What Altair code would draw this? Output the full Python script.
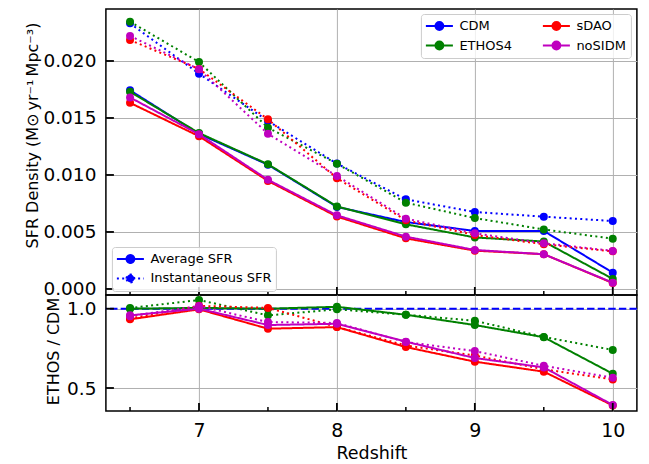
import altair as alt
import pandas as pd

# ---------------- data ----------------
redshift = [6.5, 7.0, 7.5, 8.0, 8.5, 9.0, 9.5, 10.0]
models = ["CDM", "ETHOS4", "sDAO", "noSIDM"]
ratio_models = ["ETHOS4", "sDAO", "noSIDM"]

avg_cdm = [0.01743, 0.01360, 0.01090, 0.00720, 0.00587, 0.00509, 0.00509, 0.00143]
avg_ethos4 = [0.01730, 0.01368, 0.01094, 0.00724, 0.00567, 0.00452, 0.00416, 0.00088]
avg_sdao = [0.01633, 0.01340, 0.00948, 0.00635, 0.00444, 0.00336, 0.00305, 0.00052]
avg_nosidm = [0.01680, 0.01357, 0.00958, 0.00646, 0.00459, 0.00342, 0.00305, 0.00055]

inst_cdm = [0.02330, 0.01889, 0.01474, 0.01100, 0.00786, 0.00675, 0.00634, 0.00596]
inst_ethos4 = [0.02345, 0.01991, 0.01415, 0.01099, 0.00757, 0.00622, 0.00522, 0.00441]
inst_sdao = [0.02184, 0.01930, 0.01489, 0.00972, 0.00602, 0.00474, 0.00392, 0.00330]
inst_nosidm = [0.02220, 0.01927, 0.01362, 0.00991, 0.00617, 0.00489, 0.00401, 0.00334]

ratio_avg_ethos4 = [1.000, 1.005, 1.000, 1.012, 0.962, 0.897, 0.820, 0.590]
ratio_avg_sdao = [0.933, 0.996, 0.874, 0.884, 0.758, 0.666, 0.603, 0.390]
ratio_avg_nosidm = [0.958, 1.000, 0.897, 0.905, 0.792, 0.689, 0.630, 0.393]

ratio_inst_ethos4 = [1.004, 1.055, 0.958, 0.996, 0.962, 0.924, 0.822, 0.740]
ratio_inst_sdao = [0.938, 1.018, 1.005, 0.885, 0.768, 0.705, 0.618, 0.554]
ratio_inst_nosidm = [0.953, 1.017, 0.916, 0.910, 0.790, 0.733, 0.640, 0.565]

kinds = ["Average SFR", "Instantaneous SFR"]
x_major = [7, 8, 9, 10]
x_minor = [6.5, 7.5, 8.5, 9.5]
top_yticks = [0.0, 0.005, 0.010, 0.015, 0.020]
bottom_yticks = [0.5, 1.0]
reference_ratio = [1.0]

legend_order = ["CDM", "ETHOS4", "sDAO", "noSIDM"]
palette = {"CDM": "#0000ff", "ETHOS4": "#008000", "sDAO": "#ff0000", "noSIDM": "#bf00bf"}

avg = {"CDM": avg_cdm, "ETHOS4": avg_ethos4, "sDAO": avg_sdao, "noSIDM": avg_nosidm}
inst = {"CDM": inst_cdm, "ETHOS4": inst_ethos4, "sDAO": inst_sdao, "noSIDM": inst_nosidm}
r_avg = {"ETHOS4": ratio_avg_ethos4, "sDAO": ratio_avg_sdao, "noSIDM": ratio_avg_nosidm}
r_inst = {"ETHOS4": ratio_inst_ethos4, "sDAO": ratio_inst_sdao, "noSIDM": ratio_inst_nosidm}


def long_table(avg_d, inst_d, names):
    rows = []
    for m in names:
        for z, v in zip(redshift, avg_d[m]):
            rows.append({"model": m, "kind": kinds[0], "z": z, "v": v})
        for z, v in zip(redshift, inst_d[m]):
            rows.append({"model": m, "kind": kinds[1], "z": z, "v": v})
    return pd.DataFrame(rows)


top_df = long_table(avg, inst, models)
bot_df = long_table(r_avg, r_inst, ratio_models)

# ---------------- style ----------------
W, H_TOP, H_BOT = 531, 286, 116
FONT = "DejaVu Sans"
X_FS = 19
Y_FS = 18.5

x_scale = alt.Scale(domain=[6.325, 10.175], nice=False, zero=False)
top_y_scale = alt.Scale(domain=[-0.00053, 0.02456], nice=False, zero=False)
bot_y_scale = alt.Scale(domain=[0.355, 1.0864], nice=False, zero=False)
color_scale = alt.Scale(domain=legend_order, range=[palette[m] for m in legend_order])
dash_scale = alt.Scale(domain=kinds, range=[[1, 0], [2, 3.3]])

SYMBOL = "M-1.93,0H1.93M-0.56,0A0.56,0.56,0,1,1,0.56,0A0.56,0.56,0,1,1,-0.56,0Z"

color_legend = alt.Legend(
    title=None, orient="none", legendX=315, legendY=5, columns=2,
    symbolType=SYMBOL, symbolSize=196, symbolOffset=6.5, symbolStrokeWidth=2,
    labelOffset=12, labelFontSize=13, labelFont=FONT, labelColor="black",
    fillColor="rgba(255,255,255,0.8)", strokeColor="#cccccc", cornerRadius=3,
    padding=4, rowPadding=3.5, columnPadding=25,
)
dash_legend = alt.Legend(
    title=None, orient="none", legendX=6, legendY=238,
    symbolType=SYMBOL, symbolSize=196, symbolOffset=6.5, symbolStrokeWidth=2,
    symbolStrokeColor="#0000ff", symbolFillColor="#0000ff",
    labelOffset=12, labelFontSize=13, labelFont=FONT, labelColor="black",
    fillColor="rgba(255,255,255,0.8)", strokeColor="#cccccc", cornerRadius=3,
    padding=4, rowPadding=3.5,
)

axis_common = dict(grid=True, gridColor="#b0b0b0", gridWidth=1, ticks=False, tickSize=0,
                   domain=False, labelFont=FONT, labelColor="black",
                   titleFont=FONT, titleFontWeight="normal", titleColor="black")

top_x_axis = alt.Axis(values=x_major, labels=False, title=None, **axis_common)
bot_x_axis = alt.Axis(values=x_major, format="d", labelFontSize=X_FS, labelPadding=11,
                      title="Redshift", titleFontSize=17.5, titlePadding=4, **axis_common)
top_y_axis = alt.Axis(values=top_yticks, format=".3f", labelFontSize=Y_FS, labelPadding=10,
                      title="SFR Density (M\u2299\u2009yr\u207b\u00b9\u2009Mpc\u207b\u00b3)",
                      titleFontSize=16, titleY=126, titlePadding=2, **axis_common)
bot_y_axis = alt.Axis(values=bottom_yticks, format=".1f", labelFontSize=Y_FS, labelPadding=10,
                      title="ETHOS / CDM", titleFontSize=16, titleY=56, titlePadding=5,
                      **axis_common)


def series(df, names, y_scale, x_axis, y_axis, legends):
    layers = []
    for m in names:
        sub = df[df["model"] == m]
        base = alt.Chart(sub)
        cl = color_legend if legends else None
        dl = dash_legend if legends else None
        line = base.mark_line(strokeWidth=2).encode(
            x=alt.X("z:Q", scale=x_scale, axis=x_axis),
            y=alt.Y("v:Q", scale=y_scale, axis=y_axis),
            color=alt.Color("model:N", scale=color_scale, legend=cl),
            strokeDash=alt.StrokeDash("kind:N", scale=dash_scale, legend=dl),
        )
        pts = base.mark_circle(size=64, opacity=1).encode(
            x=alt.X("z:Q", scale=x_scale, axis=x_axis),
            y=alt.Y("v:Q", scale=y_scale, axis=y_axis),
            color=alt.Color("model:N", scale=color_scale, legend=cl),
        )
        layers += [line, pts]
    return layers


def tick_layers(h, y_scale, x_axis, y_axis, yticks):
    major = alt.Chart(pd.DataFrame({"t": x_major})).mark_rule(color="black", strokeWidth=1.8).encode(
        x=alt.X("t:Q", scale=x_scale, axis=x_axis), y=alt.value(h), y2=alt.value(h - 8))
    minor = alt.Chart(pd.DataFrame({"t": x_minor})).mark_rule(color="black", strokeWidth=1.5).encode(
        x=alt.X("t:Q", scale=x_scale, axis=x_axis), y=alt.value(h), y2=alt.value(h - 4))
    ymaj = alt.Chart(pd.DataFrame({"t": yticks})).mark_rule(color="black", strokeWidth=1.8).encode(
        y=alt.Y("t:Q", scale=y_scale, axis=y_axis), x=alt.value(0), x2=alt.value(8))
    return [major, minor, ymaj]


top_layers = series(top_df, models, top_y_scale, top_x_axis, top_y_axis, True)
top_layers += tick_layers(H_TOP, top_y_scale, top_x_axis, top_y_axis, top_yticks)
top = alt.layer(*top_layers).properties(width=W, height=H_TOP)

ref = alt.Chart(pd.DataFrame({"r": reference_ratio})).mark_rule(
    color="#0000ff", strokeWidth=2, strokeDash=[7.4, 3.2]).encode(
    y=alt.Y("r:Q", scale=bot_y_scale, axis=bot_y_axis))
bot_layers = [ref] + series(bot_df, ratio_models, bot_y_scale, bot_x_axis, bot_y_axis, False)
bot_layers += tick_layers(H_BOT, bot_y_scale, bot_x_axis, bot_y_axis, bottom_yticks)
bottom = alt.layer(*bot_layers).properties(width=W, height=H_BOT)

chart = alt.vconcat(top, bottom, spacing=0, bounds="flush").resolve_scale(
    color="independent", strokeDash="independent"
).resolve_legend(
    color="independent", strokeDash="independent"
).configure_view(
    stroke="black", strokeWidth=1.5
).properties(
    padding={"left": 15.9, "top": 0, "right": 0, "bottom": 0}
)

chart.save("out.html", embed_options={"renderer": "svg", "actions": False})
